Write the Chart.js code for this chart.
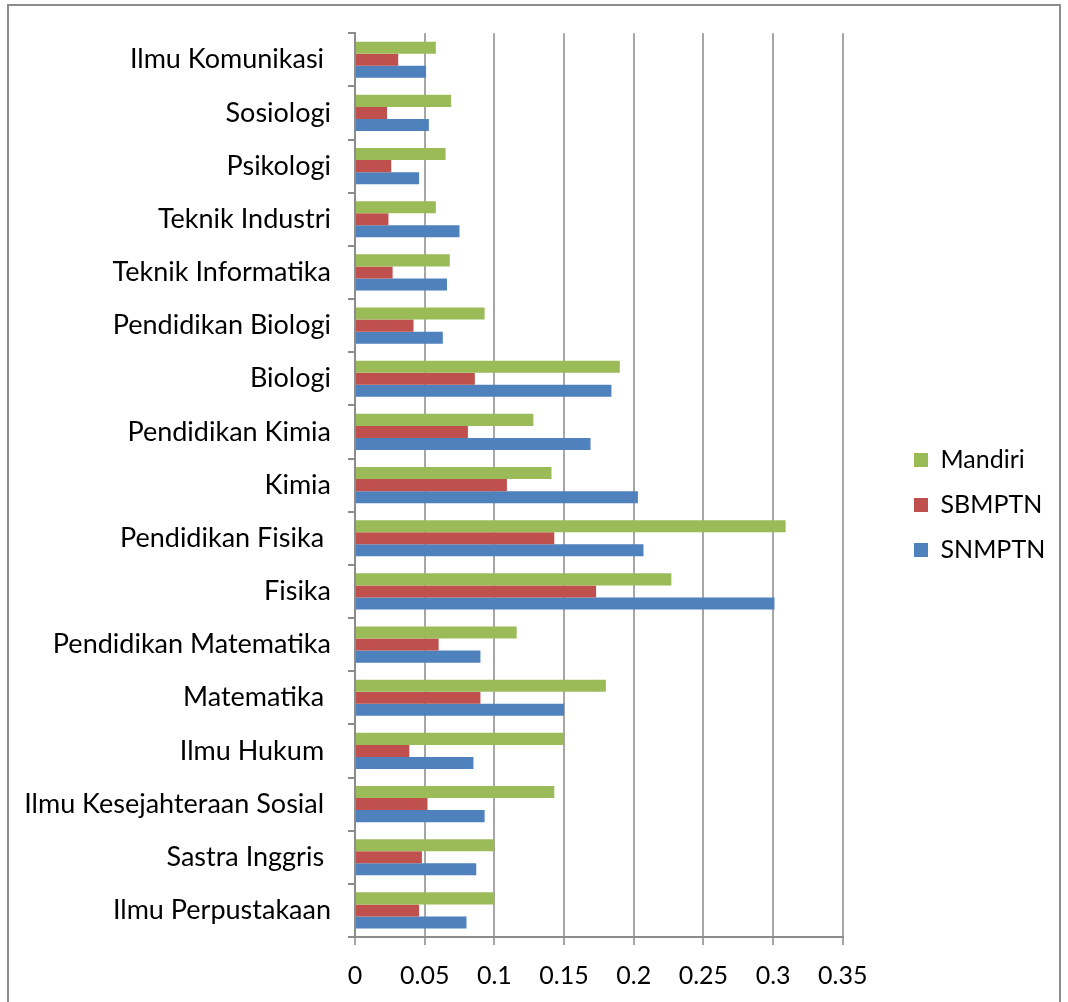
<!DOCTYPE html>
<html lang="id">
<head>
    <meta charset="UTF-8">
    <title>Rasio per Program Studi</title>
    <style>
        body { margin: 0; background: #fff; width: 1068px; height: 1002px; overflow: hidden; position: relative; }
        .frame { position: absolute; left: 7px; top: 4px; width: 1054px; height: 1020px; border: 2px solid #8c8c8c; box-sizing: border-box; }
        #chart { position: absolute; left: 0; top: 0; }
    </style>
</head>
<body>
    <div class="frame"></div>
    <canvas id="chart" width="1068" height="1002"></canvas>
    <script src="https://cdn.jsdelivr.net/npm/chart.js"></script>
    <script>
        // program studi, dari atas ke bawah
        const prodi = [
            'Ilmu Komunikasi ', 'Sosiologi', 'Psikologi', 'Teknik Industri',
            'Teknik Informatika', 'Pendidikan Biologi', 'Biologi', 'Pendidikan Kimia',
            'Kimia', 'Pendidikan Fisika ', 'Fisika', 'Pendidikan Matematika',
            'Matematika ', 'Ilmu Hukum ', 'Ilmu Kesejahteraan Sosial ', 'Sastra Inggris ',
            'Ilmu Perpustakaan'
        ];
        const mandiri = [0.058, 0.069, 0.065, 0.058, 0.068, 0.093, 0.190, 0.128, 0.141, 0.309, 0.227, 0.116, 0.180, 0.150, 0.143, 0.100, 0.100];
        const sbmptn  = [0.031, 0.023, 0.026, 0.024, 0.027, 0.042, 0.086, 0.081, 0.109, 0.143, 0.173, 0.060, 0.090, 0.039, 0.052, 0.048, 0.046];
        const snmptn  = [0.051, 0.053, 0.046, 0.075, 0.066, 0.063, 0.184, 0.169, 0.203, 0.207, 0.301, 0.090, 0.150, 0.085, 0.093, 0.087, 0.080];
        const xTicks = [0, 0.05, 0.1, 0.15, 0.2, 0.25, 0.3, 0.35];

        const fontFamily = 'Lato, "Open Sans", sans-serif';

        // geser legenda ke kanan dan sedikit ke atas
        const legendShift = {
            id: 'legendShift',
            afterLayout(chart) {
                const lg = chart.legend;
                const dx = 894 - lg.left;
                lg.left += dx; lg.right += dx;
                lg.top -= 12; lg.bottom -= 12;
            }
        };

        new Chart(document.getElementById('chart').getContext('2d'), {
            type: 'bar',
            data: {
                labels: prodi,
                datasets: [
                    { label: 'Mandiri', data: mandiri, backgroundColor: '#9BBB59' },
                    { label: 'SBMPTN', data: sbmptn, backgroundColor: '#C0504D' },
                    { label: 'SNMPTN', data: snmptn, backgroundColor: '#4F81BD' }
                ]
            },
            options: {
                indexAxis: 'y',
                responsive: false,
                animation: false,
                categoryPercentage: 0.68,
                barPercentage: 1.0,
                layout: { padding: { left: 0, top: 32, right: 64, bottom: 0 } },
                plugins: {
                    tooltip: { enabled: false },
                    legend: {
                        position: 'right',
                        labels: {
                            color: '#000',
                            font: { family: fontFamily, size: 25 },
                            boxWidth: 14,
                            boxHeight: 14,
                            padding: 20
                        }
                    }
                },
                scales: {
                    x: {
                        min: 0,
                        max: 0.35,
                        afterBuildTicks(scale) { scale.ticks = xTicks.map(v => ({ value: v })); },
                        afterFit(scale) { scale.height = 65; },
                        ticks: {
                            color: '#000',
                            font: { family: fontFamily, size: 25 },
                            padding: 16,
                            callback: v => String(+v.toFixed(2))
                        },
                        grid: { color: '#a6a6a6', lineWidth: 2, tickLength: 8 },
                        border: { color: '#8c8c8c', width: 2 }
                    },
                    y: {
                        afterFit(scale) { scale.width = 355; },
                        ticks: {
                            color: '#000',
                            font: { family: fontFamily, size: 27 },
                            padding: 17,
                            autoSkip: false
                        },
                        grid: { offset: true, drawOnChartArea: false, color: '#8c8c8c', lineWidth: 2, tickLength: 7 },
                        border: { color: '#8c8c8c', width: 2 }
                    }
                }
            },
            plugins: [legendShift]
        });
    </script>
</body>
</html>
